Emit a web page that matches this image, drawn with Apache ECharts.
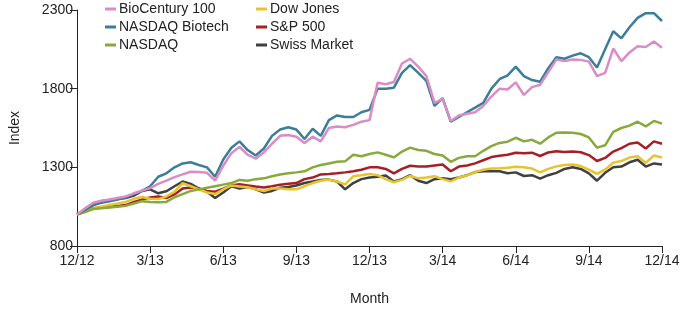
<!DOCTYPE html>
<html><head><meta charset="utf-8">
<script src="https://cdn.jsdelivr.net/npm/echarts@6/dist/echarts.min.js"></script>
<style>html,body{margin:0;padding:0;background:#fff}#c{width:685px;height:311px}</style>
</head><body><div id="c"></div>
<script>
var tickLabels = ['12/12','3/13','6/13','9/13','12/13','3/14','6/14','9/14','12/14'];
var pointsPerTick = 9;

var bioCentury = [1000,1040,1075,1088,1095,1105,1115,1135,1152,1168,1195,1215,1238,1255,1272,1270,1265,1215,1310,1390,1430,1380,1355,1395,1450,1500,1505,1495,1455,1495,1465,1550,1560,1555,1570,1590,1600,1838,1828,1842,1960,1990,1940,1880,1710,1735,1595,1630,1640,1650,1690,1750,1800,1795,1840,1760,1810,1825,1905,1985,1975,1985,1983,1972,1880,1900,2055,1975,2030,2070,2065,2100,2060];
var nasdaqBiotech = [1000,1030,1060,1075,1085,1095,1110,1130,1150,1180,1240,1262,1300,1325,1332,1315,1300,1240,1350,1425,1465,1410,1375,1420,1500,1540,1555,1540,1480,1545,1500,1600,1630,1620,1620,1650,1665,1800,1800,1806,1900,1950,1900,1850,1690,1740,1590,1620,1650,1680,1710,1800,1860,1885,1940,1880,1855,1844,1930,2000,1990,2010,2025,2000,1935,2050,2165,2120,2190,2250,2280,2280,2230];
var nasdaq = [1000,1015,1035,1040,1045,1050,1055,1070,1085,1080,1078,1080,1110,1130,1150,1160,1170,1180,1190,1200,1220,1215,1225,1230,1243,1255,1262,1268,1275,1300,1315,1325,1335,1338,1380,1370,1385,1395,1380,1363,1400,1425,1410,1405,1385,1375,1335,1360,1370,1370,1405,1435,1455,1463,1488,1465,1475,1450,1490,1520,1522,1520,1512,1490,1425,1440,1525,1550,1565,1590,1560,1595,1578];
var dowJones = [1000,1020,1040,1050,1060,1070,1080,1100,1112,1100,1098,1115,1145,1200,1180,1160,1140,1130,1160,1185,1178,1173,1160,1150,1165,1165,1160,1160,1180,1200,1215,1222,1210,1192,1243,1250,1258,1250,1225,1205,1220,1245,1230,1235,1243,1225,1211,1235,1250,1270,1285,1292,1294,1298,1303,1300,1292,1268,1290,1306,1315,1318,1308,1285,1258,1285,1330,1340,1362,1370,1328,1375,1363];
var sp500 = [1000,1020,1040,1045,1050,1055,1060,1080,1095,1108,1115,1105,1128,1165,1172,1165,1150,1145,1165,1185,1192,1185,1178,1172,1180,1190,1195,1200,1225,1235,1255,1258,1262,1268,1275,1285,1300,1300,1290,1262,1290,1310,1305,1305,1312,1318,1275,1305,1312,1325,1345,1365,1373,1380,1393,1389,1393,1372,1395,1402,1398,1400,1396,1378,1340,1360,1400,1422,1450,1458,1420,1465,1450];
var swissMarket = [1000,1030,1060,1085,1092,1098,1105,1120,1150,1160,1135,1148,1180,1210,1195,1165,1145,1105,1140,1180,1165,1175,1160,1140,1150,1170,1175,1185,1200,1210,1220,1222,1210,1160,1200,1225,1235,1240,1248,1210,1225,1250,1215,1200,1225,1230,1224,1235,1250,1270,1275,1275,1275,1262,1268,1245,1250,1228,1250,1265,1290,1300,1290,1262,1215,1265,1300,1305,1332,1348,1305,1325,1318];

var seriesNames = ['BioCentury 100','NASDAQ Biotech','NASDAQ','Dow Jones','S&P 500','Swiss Market'];
var seriesData = [bioCentury, nasdaqBiotech, nasdaq, dowJones, sp500, swissMarket];
var colors = ['#d98cc6','#3c7d99','#87aa3a','#e6c42e','#a51f27','#404040'];

var categories = [];
for (var i = 0; i < bioCentury.length; i++) {
  categories.push(i % pointsPerTick === 0 ? tickLabels[i / pointsPerTick] : '');
}

var font = 'Liberation Sans, Arial, Helvetica, sans-serif';
var chart = echarts.init(document.getElementById('c'), null, {renderer: 'canvas'});
var legendCommon = {
  orient: 'vertical', itemWidth: 11, itemHeight: 3, itemGap: 4, icon: 'rect',
  textStyle: {fontFamily: font, fontSize: 14, color: '#222', padding: [0,0,0,-2]},
  padding: 0
};
chart.setOption({
  animation: false,
  color: colors,
  textStyle: {fontFamily: font},
  legend: [
    Object.assign({left: 105, top: 2, data: seriesNames.slice(0,3)}, legendCommon),
    Object.assign({left: 256, top: 2, data: seriesNames.slice(3)}, legendCommon)
  ],
  grid: {left: 75, right: 23, top: 10, bottom: 64, containLabel: false},
  xAxis: {
    type: 'category', data: categories, boundaryGap: false,
    name: 'Month', nameLocation: 'middle', nameGap: 46,
    nameTextStyle: {fontFamily: font, fontSize: 14, color: '#222'},
    axisLine: {lineStyle: {color: '#222', width: 1}},
    axisTick: {interval: pointsPerTick - 1, length: 7, lineStyle: {color: '#222'}},
    axisLabel: {interval: pointsPerTick - 1, fontFamily: font, fontSize: 14, color: '#222', margin: 8},
    splitLine: {show: false}
  },
  yAxis: {
    type: 'value', min: 800, max: 2300, interval: 500,
    name: 'Index', nameLocation: 'middle', nameGap: 55, nameRotate: 90,
    nameTextStyle: {fontFamily: font, fontSize: 14, color: '#222'},
    axisLine: {show: true, lineStyle: {color: '#222', width: 1}},
    axisTick: {show: true, length: 7, lineStyle: {color: '#222'}},
    axisLabel: {fontFamily: font, fontSize: 14, color: '#222', margin: 4,
      formatter: function(v) { return String(v); }},
    splitLine: {show: false}
  },
  series: seriesNames.map(function(n, k) {
    return {name: n, type: 'line', data: seriesData[k], showSymbol: false, symbol: 'none',
      lineStyle: {width: 2.5, color: colors[k]}, itemStyle: {color: colors[k]}, z: 10 - k};
  })
});
</script></body></html>
